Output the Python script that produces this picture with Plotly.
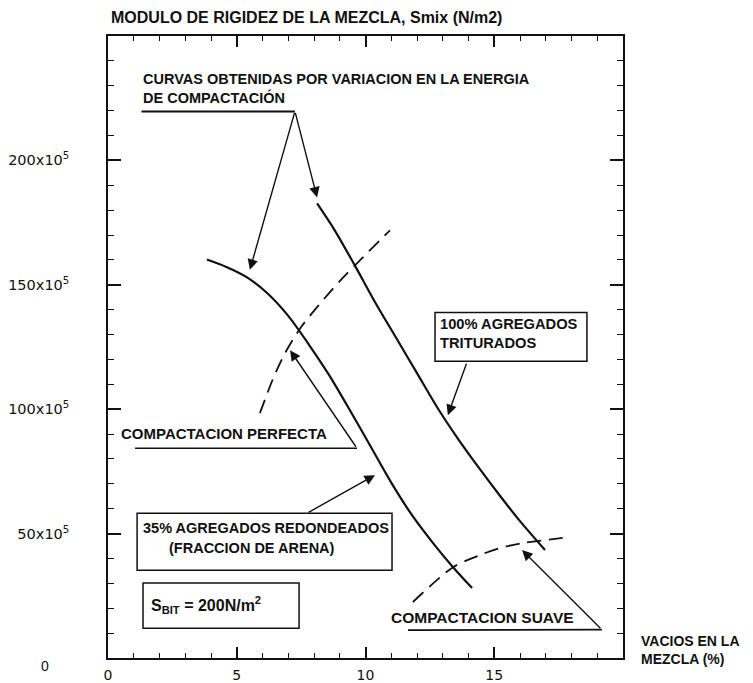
import plotly.graph_objects as go

# Curve data (x = vacios %, y = Smix in 1e5 N/m2)
redondeados_x = [3.84, 4.6, 5.4, 6.2, 7.0, 7.8, 8.6, 9.4, 10.2, 11.0, 11.8, 12.6, 13.4, 14.14]
redondeados_y = [160.2, 157.2, 153.0, 146.5, 137.5, 126.0, 113.5, 99.5, 85.0, 70.5, 57.5, 46.5, 36.5, 28.1]

triturados_x = [8.12, 8.8, 9.6, 10.4, 11.2, 12.0, 12.8, 13.6, 14.4, 15.2, 16.0, 16.97]
triturados_y = [182.7, 172.0, 157.5, 142.5, 128.5, 114.5, 100.5, 88.0, 76.5, 65.5, 55.0, 43.4]

perfecta_x = [5.9, 6.4, 6.9, 7.5, 8.2, 9.0, 9.8, 10.95]
perfecta_y = [98.4, 112.0, 123.0, 133.0, 142.0, 151.5, 160.0, 171.9]

suave_x = [11.84, 13.40, 14.45, 15.22, 16.12, 17.94]
suave_y = [22.5, 36.5, 41.4, 44.2, 46.2, 48.6]

x_tickvals = [0, 5, 10, 15]
x_ticktext = ["0", "5", "10", "15"]
x_minor = list(range(0, 21))
y_tickvals = [50, 100, 150, 200]
y_ticktext = ["50x10<sup>5</sup>", "100x10<sup>5</sup>", "150x10<sup>5</sup>", "200x10<sup>5</sup>"]
y_minor = list(range(0, 251, 10))
y_zero_label = "0"

FONT = "Liberation Sans"
BLACK = "#111111"

fig = go.Figure()
fig.add_trace(go.Scatter(x=redondeados_x, y=redondeados_y, mode="lines",
                         line=dict(color=BLACK, width=2.2, shape="spline", smoothing=0.8)))
fig.add_trace(go.Scatter(x=triturados_x, y=triturados_y, mode="lines",
                         line=dict(color=BLACK, width=2.2, shape="spline", smoothing=0.8)))
fig.add_trace(go.Scatter(x=perfecta_x, y=perfecta_y, mode="lines",
                         line=dict(color=BLACK, width=1.8, dash="14px,8px", shape="spline", smoothing=0.8)))
fig.add_trace(go.Scatter(x=suave_x, y=suave_y, mode="lines",
                         line=dict(color=BLACK, width=1.8, dash="14px,8px", shape="spline", smoothing=0.8)))

def txt(x, y, s, size=14, xref="x", yref="y", xanchor="left", bold=True):
    fig.add_annotation(x=x, y=y, xref=xref, yref=yref, text=s, showarrow=False,
                       xanchor=xanchor, yanchor="middle", align="left", borderpad=0,
                       font=dict(family=FONT, size=size, color=BLACK, weight=700 if bold else 400))

def arrow(tx, ty, hx, hy):
    fig.add_annotation(x=hx, y=hy, ax=tx, ay=ty, xref="x", yref="y", axref="x", ayref="y",
                       text="", showarrow=True, arrowhead=2, arrowsize=1.5, arrowwidth=1.4,
                       arrowcolor=BLACK)

def seg(x0, y0, x1, y1, w=1.6):
    fig.add_shape(type="line", x0=x0, y0=y0, x1=x1, y1=y1, xref="x", yref="y",
                  line=dict(color=BLACK, width=w))

def box(x0, y0, x1, y1):
    fig.add_shape(type="rect", x0=x0, y0=y0, x1=x1, y1=y1, xref="x", yref="y",
                  line=dict(color=BLACK, width=1.5), fillcolor="rgba(0,0,0,0)")

# Title / axis labels
txt(0.004, 1.029, "MODULO DE RIGIDEZ DE LA MEZCLA, Smix (N/m2)", size=16, xref="paper", yref="paper")
txt(1.033, 0.013, "VACIOS EN LA<br>MEZCLA (%)", size=14, xref="paper", yref="paper")
txt(-0.132, -0.013, y_zero_label, size=14, xref="paper", yref="paper", bold=False)

# Curvas obtenidas
txt(1.32, 228.7, "CURVAS OBTENIDAS POR VARIACION EN LA ENERGIA<br>DE COMPACTACIÓN", size=14.5)
seg(1.30, 219.7, 7.26, 219.7, 2)
arrow(7.26, 219.7, 5.51, 156.0)
arrow(7.26, 219.7, 8.12, 185.1)

# 100% triturados
box(12.70, 138.9, 18.60, 119.3)
txt(12.85, 130.5, "100% AGREGADOS<br>TRITURADOS", size=14.7)
arrow(13.94, 118.9, 13.20, 97.6)

# Compactacion perfecta
txt(0.47, 90.4, "COMPACTACION PERFECTA", size=15)
seg(1.05, 84.3, 9.67, 84.3)
arrow(9.67, 84.3, 7.07, 123.7)

# 35% redondeados
box(1.13, 58.2, 11.03, 35.3)
txt(1.32, 52.2, "35% AGREGADOS REDONDEADOS", size=14.5)
txt(2.33, 44.2, "(FRACCION DE ARENA)", size=14.5)
arrow(7.73, 58.2, 10.37, 73.5)

# S_BIT
box(1.36, 30.1, 7.42, 12.0)
txt(1.63, 21.5, "S<sub>BIT</sub> = 200N/m<sup>2</sup>", size=16)

# Compactacion suave
txt(10.95, 16.1, "COMPACTACION SUAVE", size=15.5)
seg(11.65, 11.2, 19.18, 11.4)
arrow(19.18, 11.4, 16.08, 43.4)

# The page body adds an 8px offset, so the figure is 8px smaller and margins shifted.
fig.update_layout(
    width=745, height=675,
    margin=dict(l=100, r=130, t=28, b=25, autoexpand=False),
    paper_bgcolor="white", plot_bgcolor="white",
    showlegend=False,
    font=dict(family=FONT, size=13, color=BLACK),
)
fig.update_xaxes(range=[0, 20], tickmode="array", tickvals=x_tickvals, ticktext=x_ticktext,
                 ticks="inside", ticklen=11, tickwidth=1.5, tickcolor=BLACK,
                 minor=dict(tickmode="array", tickvals=x_minor, ticks="inside", ticklen=5,
                            tickwidth=1.3, tickcolor=BLACK),
                 showline=True, linecolor=BLACK, linewidth=1.6, mirror="allticks",
                 showgrid=False, zeroline=False, ticklabelstandoff=3, automargin=False,
                 tickfont=dict(family="DejaVu Sans", size=14, color=BLACK))
fig.update_yaxes(range=[0, 250], tickmode="array", tickvals=y_tickvals, ticktext=y_ticktext,
                 ticks="inside", ticklen=13, tickwidth=1.5, tickcolor=BLACK,
                 minor=dict(tickmode="array", tickvals=y_minor, ticks="inside", ticklen=6,
                            tickwidth=1.3, tickcolor=BLACK),
                 showline=True, linecolor=BLACK, linewidth=1.6, mirror="allticks",
                 showgrid=False, zeroline=False, ticklabelstandoff=34, automargin=False,
                 tickfont=dict(family="DejaVu Sans", size=14.5, color=BLACK))

fig.write_html("out.html")
